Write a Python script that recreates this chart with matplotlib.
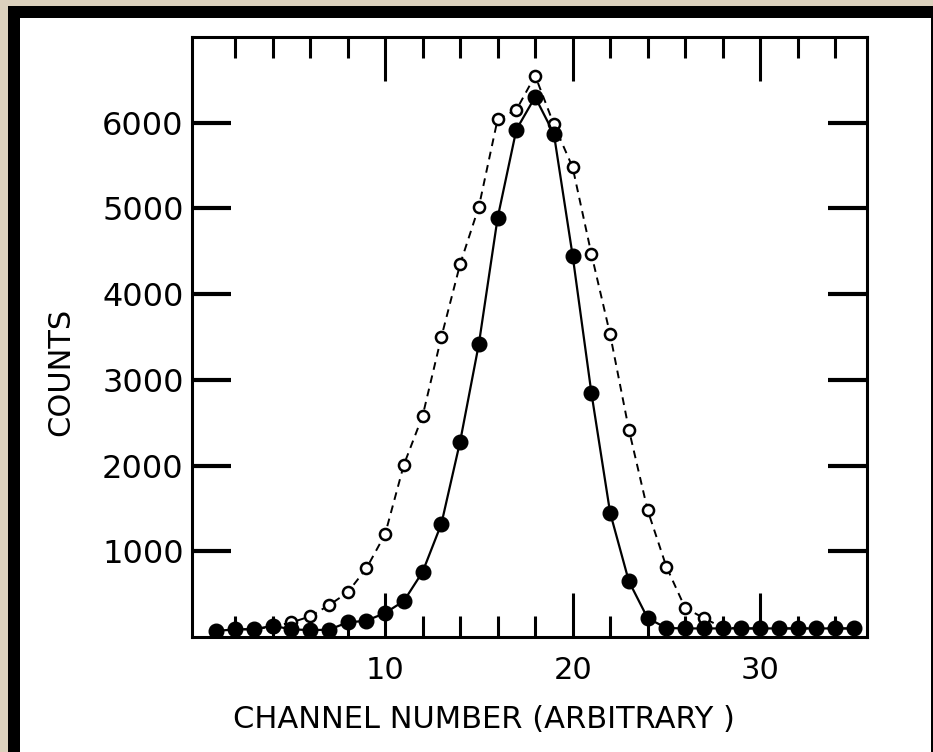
import numpy as np
import matplotlib.pyplot as plt
from matplotlib.patches import Rectangle

# channel numbers and counts
channels = list(range(1, 36))
counts_filled = [70, 90, 90, 130, 90, 80, 85, 170, 190, 280, 420, 760, 1320, 2280,
                 3420, 4890, 5920, 6300, 5870, 4450, 2850, 1450, 650, 220, 105,
                 100, 100, 100, 100, 100, 100, 100, 100, 100, 100]
counts_open = [70, 90, 90, 120, 170, 240, 370, 520, 800, 1200, 2010, 2580, 3500,
               4350, 5020, 6040, 6150, 6550, 5980, 5480, 4470, 3530, 2420, 1480,
               820, 340, 220, 110, 100, 100, 100, 100, 100, 100, 100]

ytick_vals = [1000, 2000, 3000, 4000, 5000, 6000]
xtick_major = [10, 20, 30]
xtick_minor = list(range(2, 36, 2))

W, H = 933, 752
fig = plt.figure(figsize=(W / 100, H / 100), dpi=100)
fig.patch.set_facecolor('#dcd1bd')

# black frame and white panel behind the plot
fig.patches.append(Rectangle((8 / W, 0), 1, (H - 6) / H, transform=fig.transFigure,
                             facecolor='black', edgecolor='none', zorder=-3))
fig.patches.append(Rectangle((20 / W, 0), (931 - 20) / W, (H - 18) / H,
                             transform=fig.transFigure, facecolor='white',
                             edgecolor='none', zorder=-2))

ax = fig.add_axes([192 / W, (H - 637) / H, (867 - 192) / W, (637 - 37) / H])
ax.set_facecolor('none')

ax.plot(channels, counts_open, color='black', lw=1.4, ls=(0, (4, 3)), zorder=2)
ax.plot(channels, counts_open, 'o', ms=8, mfc='white', mec='black', mew=1.8, zorder=3)
ax.plot(channels, counts_filled, color='black', lw=1.6, zorder=4)
ax.plot(channels, counts_filled, 'o', ms=10.5, mfc='black', mec='black', zorder=5)

ax.set_xlim(-0.3, 35.7)
ax.set_ylim(0, 7000)

ax.set_xticks(xtick_major)
ax.set_xticks(xtick_minor, minor=True)
ax.set_xticklabels([str(v) for v in xtick_major])
ax.set_yticks(ytick_vals)
ax.set_yticklabels([str(v) for v in ytick_vals])

ax.tick_params(axis='x', which='major', direction='in', length=32, width=2.2,
               top=True, labelsize=22, pad=14)
ax.tick_params(axis='x', which='minor', direction='in', length=15, width=2.2, top=True)
ax.tick_params(axis='y', which='major', direction='in', length=28, width=3,
               right=True, labelsize=23, pad=6)

for s in ax.spines.values():
    s.set_linewidth(2.2)

fig.text(484 / W, 1 - 720 / H, 'CHANNEL NUMBER (ARBITRARY )', ha='center', va='center',
         fontsize=22)
fig.text(61 / W, 1 - 372 / H, 'COUNTS', ha='center', va='center', rotation=90,
         fontsize=22)

fig.savefig('out.png', dpi=100, facecolor=fig.get_facecolor())
